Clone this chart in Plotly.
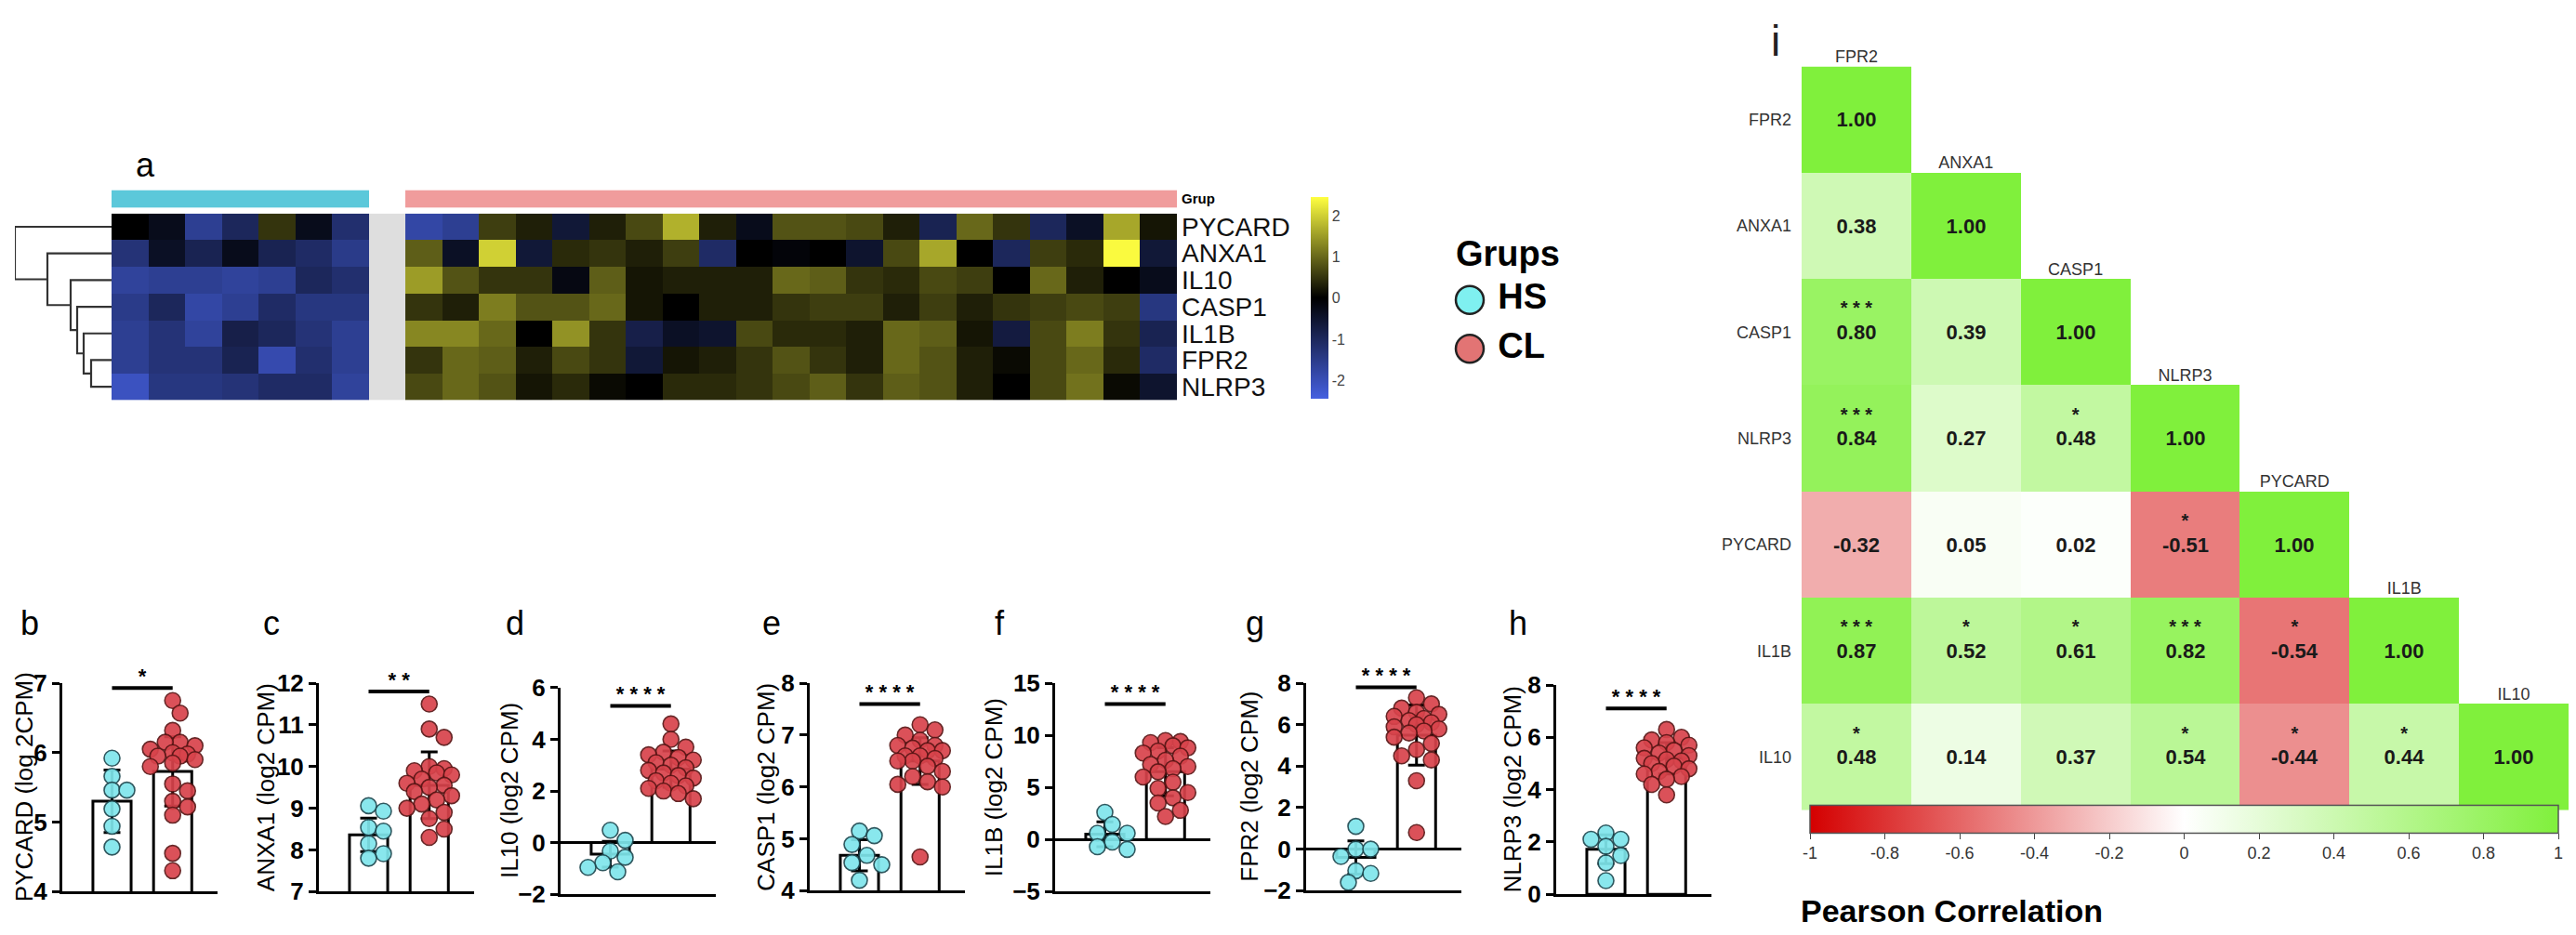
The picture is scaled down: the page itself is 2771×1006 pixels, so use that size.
import numpy as np
import plotly.graph_objects as go

W, H = 2771, 1006
FONT = "Arial, Liberation Sans, sans-serif"

# ---------------- panel a : expression heatmap ----------------
hm_genes = ["PYCARD", "ANXA1", "IL10", "CASP1", "IL1B", "FPR2", "NLRP3"]
hs_expr = [
    [0.0, -0.3, -1.6, -1.0, 0.5, -0.3, -1.2],
    [-1.3, -0.4, -0.9, -0.3, -0.9, -1.1, -1.5],
    [-1.7, -1.6, -1.6, -1.7, -1.6, -1.0, -1.2],
    [-1.5, -1.0, -1.8, -1.6, -1.1, -1.4, -1.4],
    [-1.6, -1.3, -1.7, -0.8, -1.0, -1.3, -1.6],
    [-1.6, -1.3, -1.3, -0.9, -1.9, -1.2, -1.6],
    [-2.1, -1.4, -1.4, -1.3, -1.1, -1.1, -1.7],
]
cl_expr = [
    [-1.8, -1.6, 0.6, 0.3, -0.6, 0.3, 0.7, 1.7, 0.3, -0.3, 0.8, 0.8, 0.7, 0.3, -0.9, 1.0, 0.5, -1.0, -0.4, 1.6, 0.2],
    [0.9, -0.4, 2.0, -0.6, 0.4, 0.5, 0.3, 0.6, -1.1, 0.0, -0.1, 0.0, -0.5, 0.7, 1.6, 0.0, -1.0, 0.6, 0.4, 2.4, -0.6],
    [1.5, 0.8, 0.5, 0.5, -0.2, 0.9, 0.2, 0.3, 0.3, 0.3, 1.0, 0.9, 0.5, 0.4, 0.7, 0.6, 0.0, 1.0, 0.3, 0.0, -0.3],
    [0.5, 0.3, 1.2, 0.8, 0.8, 1.0, 0.2, 0.0, 0.3, 0.3, 0.5, 0.6, 0.6, 0.3, 0.6, 0.3, 0.5, 0.6, 0.7, 0.6, -1.4],
    [1.3, 1.3, 1.0, 0.0, 1.4, 0.5, -0.8, -0.4, -0.5, 0.7, 0.4, 0.4, 0.3, 1.0, 0.9, 0.2, -0.7, 0.7, 1.2, 0.5, -0.9],
    [0.5, 1.0, 0.9, 0.3, 0.7, 0.5, -0.6, 0.2, 0.3, 0.5, 0.8, 0.5, 0.3, 1.0, 0.8, 0.3, 0.1, 0.7, 1.0, 0.4, -1.1],
    [0.7, 1.0, 0.8, 0.2, 0.4, 0.1, 0.0, 0.4, 0.4, 0.5, 0.7, 0.9, 0.5, 0.9, 0.8, 0.3, 0.0, 0.7, 1.1, 0.1, -0.5],
]
# dendrogram: genes joined one after another onto NLRP3, with merge heights
dend_join = ["FPR2", "IL1B", "CASP1", "IL10", "ANXA1", "PYCARD"]
dend_height = [2.2, 3.0, 3.7, 4.4, 6.9, 10.4]
groups = ["HS", "CL"]

# ---------------- panels b-h : bar + dot plots ----------------
bar_titles = ["PYCARD (log 2CPM)", "ANXA1 (log2 CPM)", "IL10 (log2 CPM)", "CASP1 (log2 CPM)",
              "IL1B (log2 CPM)", "FPR2 (log2 CPM)", "NLRP3 (log2 CPM)"]
bar_letters = ["b", "c", "d", "e", "f", "g", "h"]
hs_pts = [
    [5.92, 5.66, 5.46, 5.46, 5.19, 4.94, 4.64],
    [9.06, 8.93, 8.54, 8.45, 8.15, 7.91, 7.8],
    [0.48, 0.09, -0.33, -0.57, -0.78, -0.96, -1.13],
    [5.15, 5.06, 4.89, 4.68, 4.54, 4.5, 4.2],
    [2.6, 1.45, 0.6, 0.6, -0.25, -0.7, -0.95],
    [1.1, 0.0, 0.0, -0.35, -1.04, -1.17, -1.6],
    [2.34, 2.1, 2.1, 1.83, 1.48, 1.2, 0.52],
]
cl_pts = [
    [6.75, 6.57, 6.32, 6.15, 6.15, 6.1, 6.05, 6.0, 5.98, 5.95, 5.95, 5.9, 5.85, 5.8, 5.55, 5.45, 5.3, 5.22, 5.1, 4.55, 4.3],
    [11.5, 10.9, 10.7, 10.0, 9.95, 9.9, 9.85, 9.8, 9.7, 9.6, 9.55, 9.5, 9.4, 9.3, 9.2, 9.1, 9.0, 8.9, 8.75, 8.5, 8.3],
    [4.6, 4.0, 3.7, 3.5, 3.4, 3.3, 3.2, 3.1, 3.0, 2.9, 2.8, 2.7, 2.6, 2.5, 2.4, 2.3, 2.2, 2.1, 2.0, 1.9, 1.7],
    [7.2, 7.1, 7.0, 6.9, 6.8, 6.8, 6.75, 6.7, 6.7, 6.6, 6.6, 6.55, 6.5, 6.5, 6.4, 6.3, 6.2, 6.1, 6.05, 6.0, 4.65],
    [9.5, 9.4, 9.3, 9.0, 8.8, 8.5, 8.3, 8.0, 7.6, 7.2, 7.0, 6.8, 6.5, 6.0, 5.5, 4.9, 4.5, 4.0, 3.5, 2.8, 2.2],
    [7.3, 7.0, 6.8, 6.6, 6.5, 6.4, 6.3, 6.2, 6.1, 6.0, 5.9, 5.8, 5.7, 5.6, 5.4, 5.1, 4.8, 4.5, 4.3, 3.3, 0.8],
    [6.3, 6.0, 5.9, 5.8, 5.7, 5.6, 5.5, 5.4, 5.3, 5.2, 5.15, 5.1, 5.0, 4.9, 4.8, 4.7, 4.6, 4.5, 4.4, 4.2, 3.8],
]
bar_mean = [[5.3, 5.73], [8.36, 9.55], [-0.45, 2.85], [4.68, 6.5], [0.5, 6.5], [-0.4, 5.5], [1.72, 5.2]]
bar_sd = [[0.45, 0.5], [0.4, 0.8], [0.5, 0.7], [0.3, 0.45], [1.2, 2.3], [0.8, 1.45], [0.55, 0.6]]
y_ranges = [[4, 7], [7, 12], [-2, 6], [4, 8], [-5, 15], [-2, 8], [0, 8]]
y_dtick = [1, 1, 2, 1, 5, 2, 2]
sig_y = [6.93, 11.8, 5.3, 7.6, 13.0, 7.8, 7.1]
sig_text = ["*", "* *", "* * * *", "* * * *", "* * * *", "* * * *", "* * * *"]

# ---------------- panel i : correlation ----------------
corr_genes = ["FPR2", "ANXA1", "CASP1", "NLRP3", "PYCARD", "IL1B", "IL10"]
corr_vals = [
    [1.00],
    [0.38, 1.00],
    [0.80, 0.39, 1.00],
    [0.84, 0.27, 0.48, 1.00],
    [-0.32, 0.05, 0.02, -0.51, 1.00],
    [0.87, 0.52, 0.61, 0.82, -0.54, 1.00],
    [0.48, 0.14, 0.37, 0.54, -0.44, 0.44, 1.00],
]
corr_stars = [
    [""],
    ["", ""],
    ["***", "", ""],
    ["***", "", "*", ""],
    ["", "", "", "*", ""],
    ["***", "*", "*", "***", "*", ""],
    ["*", "", "", "*", "*", "*", ""],
]
corr_ticks = [-1, -0.8, -0.6, -0.4, -0.2, 0, 0.2, 0.4, 0.6, 0.8, 1]


def dom_x(a, b):
    return [a / W, b / W]


def dom_y(top, bottom):
    return [1 - bottom / H, 1 - top / H]


fig = go.Figure()
layout = dict(width=W, height=H, margin=dict(l=0, r=0, t=0, b=0),
              paper_bgcolor="white", plot_bgcolor="white", showlegend=False,
              font=dict(family=FONT, color="black"))
annos = []
hidden = dict(visible=False, showgrid=False, zeroline=False, fixedrange=True)

# ---- heatmap a ----
n_hs = len(hs_expr[0])
n_cl = len(cl_expr[0])
ncol = n_hs + 1 + n_cl
z_hm = [hs_expr[r] + [None] + cl_expr[r] for r in range(len(hm_genes))]
hm_x = dom_x(112, 1258)
hm_y = dom_y(213, 420)

fig.add_trace(go.Heatmap(x=[n_hs], y=list(range(len(hm_genes))), z=[[0]] * len(hm_genes),
                         colorscale=[[0, "#dedede"], [1, "#dedede"]], showscale=False,
                         hoverinfo="skip", xaxis="x", yaxis="y"))
fig.add_trace(go.Heatmap(x=list(range(ncol)), y=list(range(len(hm_genes))), z=z_hm,
                         colorscale=[[0, "#4560e0"], [0.5, "#000000"], [1, "#ffff40"]],
                         zmin=-2.45, zmax=2.45, xaxis="x", yaxis="y",
                         colorbar=dict(x=1402 / W, xanchor="left", y=1 - 307 / H, yanchor="middle",
                                       len=244 / H, lenmode="fraction", thickness=19, outlinewidth=0,
                                       tickvals=[-2, -1, 0, 1, 2], ticktext=["-2", "-1", "0", "1", "2"],
                                       ticks="", xpad=0, tickfont=dict(size=16, color="#444"))))
layout["xaxis"] = dict(domain=hm_x, range=[-0.5, ncol - 0.5], **hidden)
layout["yaxis"] = dict(domain=hm_y, range=[len(hm_genes) - 0.5, -0.5], side="right",
                       tickvals=list(range(len(hm_genes))), ticktext=hm_genes, ticks="",
                       showline=False, showgrid=False, zeroline=False, ticklabelstandoff=4,
                       tickfont=dict(size=28, color="#111"), anchor="x")

# group annotation bar
grp_row = [[0] * n_hs + [None] + [1] * n_cl]
fig.add_trace(go.Heatmap(x=list(range(ncol)), y=[0], z=grp_row, zmin=0, zmax=1, showscale=False,
                         colorscale=[[0, "#5cc8da"], [0.5, "#5cc8da"], [0.5, "#f09c9c"], [1, "#f09c9c"]],
                         xaxis="x2", yaxis="y2", hoverinfo="skip"))
layout["xaxis2"] = dict(domain=hm_x, range=[-0.5, ncol - 0.5], **hidden)
layout["yaxis2"] = dict(domain=dom_y(187, 207), range=[-0.5, 0.5], side="right", anchor="x2",
                        tickvals=[0], ticktext=["<b>Grup</b>"], ticks="", showgrid=False,
                        zeroline=False, ticklabelstandoff=4, tickfont=dict(size=15))

# dendrogram
row_of = {g: i for i, g in enumerate(hm_genes)}
dx, dy = [], []
cur_y, cur_h = row_of["NLRP3"], 0.0
for g, h in zip(dend_join, dend_height):
    gy = row_of[g]
    dx += [0, h, h, cur_h, None]
    dy += [gy, gy, cur_y, cur_y, None]
    cur_y, cur_h = (gy + cur_y) / 2, h
fig.add_trace(go.Scatter(x=dx, y=dy, mode="lines", line=dict(color="#333", width=2.2),
                         xaxis="x3", yaxis="y3", hoverinfo="skip"))
layout["xaxis3"] = dict(domain=dom_x(8, 112), range=[max(dend_height), 0], **hidden)
layout["yaxis3"] = dict(domain=hm_y, range=[len(hm_genes) - 0.5, -0.5], anchor="x3", **hidden)

annos.append(dict(text="a", x=136 / W, y=1 - 136 / H, xref="paper", yref="paper",
                  showarrow=False, font=dict(size=36)))

# legend "Grups"
fig.add_trace(go.Scatter(x=[0, 0], y=[0, 1], mode="markers+text", text=[" HS", " CL"],
                         textposition="middle right", textfont=dict(size=38, weight="bold"),
                         marker=dict(size=30, color=["#7ff0f0", "#e27474"],
                                     line=dict(color="#222", width=2.5)),
                         xaxis="x4", yaxis="y4", hoverinfo="skip", cliponaxis=False))
layout["xaxis4"] = dict(domain=dom_x(1543, 1693), range=[-1, 4], **hidden)
layout["yaxis4"] = dict(domain=dom_y(282, 390), range=[1.5, -0.5], anchor="x4", **hidden)
annos.append(dict(text="<b>Grups</b>", x=1556 / W, y=1 - 258 / H, xref="paper", yref="paper",
                  xanchor="left", yanchor="middle", showarrow=False, font=dict(size=38)))

# ---- bar panels ----
axis_left = [59, 335, 595, 863, 1127, 1397, 1666]
title_off = [41, 57, 55, 47, 66, 61, 47]
panel_top = [734, 734, 739, 734, 734, 734, 736]
panel_bot = [965, 965, 968, 964, 965, 964, 968]
panel_w = 167
xr = [-0.82, 1.74]


def swarm(vals, ppu, d=15.0, step=8.0, max_off=26.0):
    placed, offs = [], []
    cands = [0.0]
    k = 1
    while k * step <= max_off:
        cands += [k * step, -k * step]
        k += 1
    for v in vals:
        yv = v * ppu
        chosen, best, best_gap = None, 0.0, -1.0
        for c in cands:
            gap = min([np.hypot(c - px, yv - py) for px, py in placed], default=1e9)
            if gap >= d:
                chosen = c
                break
            if gap > best_gap:
                best_gap, best = gap, c
        if chosen is None:
            chosen = best
        placed.append((chosen, yv))
        offs.append(chosen)
    return offs


xppu = panel_w / (xr[1] - xr[0])
for i in range(7):
    n = 5 + i
    xa, ya = f"x{n}", f"y{n}"
    r0, r1 = y_ranges[i]
    yppu = (panel_bot[i] - panel_top[i]) / (r1 - r0)
    fig.add_trace(go.Bar(x=[0, 1], y=bar_mean[i], width=0.63,
                         marker=dict(color="white", line=dict(color="black", width=3)),
                         error_y=dict(type="data", array=bar_sd[i], color="black", thickness=3, width=9),
                         xaxis=xa, yaxis=ya, hoverinfo="skip"))
    for gi, (pts, fill, edge) in enumerate([(hs_pts[i], "#7fe6ec", "#1f4a52"),
                                            (cl_pts[i], "#d8434b", "#5a1515")]):
        offs = swarm(pts, yppu)
        fig.add_trace(go.Scatter(x=[gi + o / xppu for o in offs], y=pts, mode="markers",
                                 marker=dict(size=17, color=fill, opacity=0.92,
                                             line=dict(color=edge, width=1.6)),
                                 xaxis=xa, yaxis=ya, hoverinfo="skip", cliponaxis=False))
    fig.add_trace(go.Scatter(x=[0, 1], y=[sig_y[i], sig_y[i]], mode="lines",
                             line=dict(color="black", width=4), xaxis=xa, yaxis=ya,
                             hoverinfo="skip", cliponaxis=False))
    fig.add_trace(go.Scatter(x=[0.5], y=[sig_y[i]], mode="text", text=[sig_text[i]],
                             textposition="top center", textfont=dict(size=22, weight="bold"),
                             xaxis=xa, yaxis=ya, hoverinfo="skip", cliponaxis=False))
    left = axis_left[i]
    layout[f"xaxis{n}"] = dict(domain=dom_x(left, left + panel_w), range=xr, anchor=ya,
                               showline=True, linewidth=3, linecolor="black", ticks="",
                               showticklabels=False, showgrid=False, zeroline=False, fixedrange=True)
    layout[f"yaxis{n}"] = dict(domain=dom_y(panel_top[i], panel_bot[i]), range=[r0, r1], anchor=xa,
                               tick0=r0, dtick=y_dtick[i], showline=True, linewidth=3,
                               linecolor="black", ticks="outside", ticklen=8, tickwidth=3,
                               tickcolor="black", showgrid=False, exponentformat="none",
                               zeroline=(r0 < 0 < r1), zerolinewidth=3, zerolinecolor="black",
                               tickfont=dict(size=26, weight="bold"), fixedrange=True)
    tx = left - title_off[i]
    annos.append(dict(text=bar_titles[i], x=tx / W, y=1 - (panel_top[i] + panel_bot[i]) / 2 / H,
                      xref="paper", yref="paper", textangle=-90, showarrow=False,
                      xanchor="center", yanchor="middle", font=dict(size=26)))
    annos.append(dict(text=bar_letters[i], x=(tx + 6) / W, y=1 - 667 / H, xref="paper", yref="paper",
                      showarrow=False, xanchor="center", yanchor="middle", font=dict(size=36)))

# ---- correlation panel i ----
nc = len(corr_genes)
zc, tc = [], []
sx, sy, st = [], [], []
for r in range(nc):
    zrow, trow = [], []
    for c in range(nc):
        if c <= r:
            v = corr_vals[r][c]
            zrow.append(v)
            trow.append(f"<b>{v:.2f}</b>")
            if corr_stars[r][c]:
                sx.append(c)
                sy.append(r - 0.21)
                st.append(" ".join(corr_stars[r][c]))
        else:
            zrow.append(None)
            trow.append("")
    zc.append(zrow)
    tc.append(trow)

fig.add_trace(go.Heatmap(x=list(range(nc)), y=list(range(nc)), z=zc, text=tc, texttemplate="%{text}",
                         textfont=dict(size=22, color="#1a1a1a"), zmin=-1, zmax=1,
                         colorscale=[[0, "#d40000"], [0.5, "#ffffff"], [1, "#80f03c"]],
                         xaxis="x12", yaxis="y12", hoverinfo="skip",
                         colorbar=dict(orientation="h", x=(1929 + 2754) / 2 / W, xanchor="center",
                                       y=1 - 902 / H, yanchor="middle", len=825 / W, lenmode="fraction",
                                       thickness=30, outlinewidth=1.5, outlinecolor="#555",
                                       tickvals=corr_ticks, ticktext=[f"{t:g}" for t in corr_ticks],
                                       ticks="outside", ticklen=6, tickcolor="#444",
                                       tickfont=dict(size=18, color="#333"))))
fig.add_trace(go.Scatter(x=sx, y=sy, mode="text", text=st, textfont=dict(size=20, weight="bold", color="#1a1a1a"),
                         xaxis="x12", yaxis="y12", hoverinfo="skip", cliponaxis=False))
fig.add_trace(go.Scatter(x=list(range(nc)), y=[k - 0.5 for k in range(nc)], mode="text", text=corr_genes,
                         textposition="top center", textfont=dict(size=18, color="#333"),
                         xaxis="x12", yaxis="y12", hoverinfo="skip", cliponaxis=False))
layout["xaxis12"] = dict(domain=dom_x(1930, 2755), range=[-0.5, nc - 0.5], anchor="y12", **hidden)
layout["yaxis12"] = dict(domain=dom_y(50, 875), range=[nc - 0.5, -0.5], anchor="x12",
                         tickvals=list(range(nc)), ticktext=corr_genes, ticks="", showline=False,
                         showgrid=False, zeroline=False, ticklabelstandoff=10,
                         tickfont=dict(size=18, color="#333"), fixedrange=True)
annos.append(dict(text="i", x=1902 / W, y=1 - 22 / H, xref="paper", yref="paper", showarrow=False,
                  xanchor="center", yanchor="middle", font=dict(size=46, color="#222")))
annos.append(dict(text="<b>Pearson Correlation</b>", x=1927 / W, y=1 - 986 / H, xref="paper",
                  yref="paper", xanchor="left", yanchor="middle", showarrow=False,
                  font=dict(size=34)))

layout["annotations"] = annos
fig.update_layout(**layout)
fig.write_html("out.html")
